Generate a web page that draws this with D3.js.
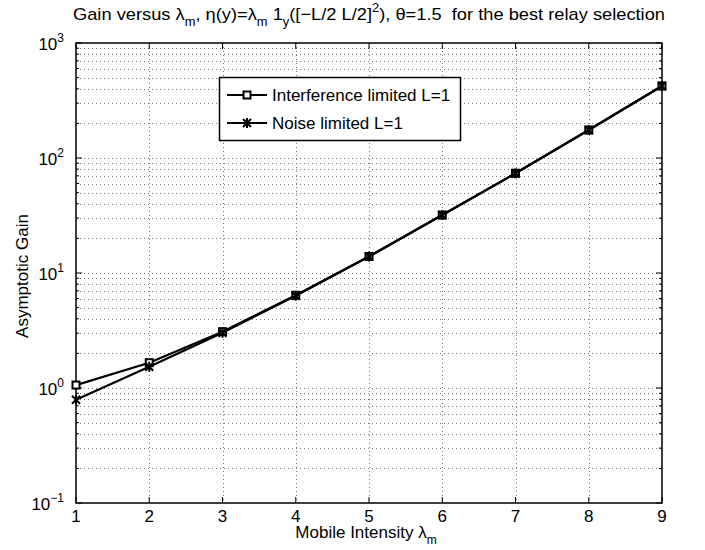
<!DOCTYPE html>
<html>
<head>
<meta charset="utf-8">
<script src="https://cdn.jsdelivr.net/npm/d3@7"></script>
<style>
  html, body { margin: 0; padding: 0; background: #fff; }
  svg text { font-family: "Liberation Sans", Arial, Helvetica, sans-serif; fill: #000; }
</style>
</head>
<body>
<svg id="chart" width="705" height="550"></svg>
<script>
const lambdas = [1, 2, 3, 4, 5, 6, 7, 8, 9];
const interferenceGain = [1.06, 1.66, 3.09, 6.4, 13.9, 31.9, 73.6, 175, 423];
const noiseGain = [0.79, 1.53, 3.02, 6.35, 13.9, 31.9, 73.6, 175, 423];
const xTicks = [1, 2, 3, 4, 5, 6, 7, 8, 9];
const yDecades = [-1, 0, 1, 2, 3];
const seriesNames = ["Interference limited L=1", "Noise limited L=1"];

const svg = d3.select("#chart");
const margin = { left: 76, right: 43, top: 43, bottom: 47 };
const width = 705 - margin.left - margin.right;
const height = 550 - margin.top - margin.bottom;

const x = d3.scaleLinear().domain([1, 9]).range([margin.left, margin.left + width]);
const y = d3.scaleLog().domain([0.1, 1000]).range([margin.top + height, margin.top]);

const minorValues = [];
yDecades.slice(0, -1).forEach((d) => {
  for (let k = 2; k <= 9; k++) minorValues.push(k * Math.pow(10, d));
});
const majorValues = yDecades.map((d) => Math.pow(10, d));

// grid
const grid = svg.append("g")
  .attr("stroke", "#777")
  .attr("stroke-width", 1)
  .attr("stroke-dasharray", "1,3");

grid.selectAll("line.gx")
  .data(xTicks.slice(1, -1))
  .join("line")
  .attr("x1", (d) => Math.round(x(d)) + 0.5).attr("x2", (d) => Math.round(x(d)) + 0.5)
  .attr("y1", margin.top).attr("y2", margin.top + height);

grid.selectAll("line.gy")
  .data(minorValues.concat(majorValues.slice(1, -1)))
  .join("line")
  .attr("x1", margin.left).attr("x2", margin.left + width)
  .attr("y1", (d) => Math.round(y(d)) + 0.5).attr("y2", (d) => Math.round(y(d)) + 0.5);

// ticks (inward, all four sides)
const ticks = svg.append("g").attr("stroke", "#000").attr("stroke-width", 1);
xTicks.forEach((t) => {
  ticks.append("line").attr("x1", x(t)).attr("x2", x(t)).attr("y1", margin.top + height).attr("y2", margin.top + height - 6);
  ticks.append("line").attr("x1", x(t)).attr("x2", x(t)).attr("y1", margin.top).attr("y2", margin.top + 6);
});
majorValues.forEach((v) => {
  ticks.append("line").attr("x1", margin.left).attr("x2", margin.left + 6).attr("y1", y(v)).attr("y2", y(v));
  ticks.append("line").attr("x1", margin.left + width).attr("x2", margin.left + width - 6).attr("y1", y(v)).attr("y2", y(v));
});
minorValues.forEach((v) => {
  ticks.append("line").attr("x1", margin.left).attr("x2", margin.left + 3).attr("y1", y(v)).attr("y2", y(v));
  ticks.append("line").attr("x1", margin.left + width).attr("x2", margin.left + width - 3).attr("y1", y(v)).attr("y2", y(v));
});

// box
svg.append("rect")
  .attr("x", margin.left).attr("y", margin.top)
  .attr("width", width).attr("height", height)
  .attr("fill", "none").attr("stroke", "#000").attr("stroke-width", 1.5);

// tick labels
svg.append("g").selectAll("text")
  .data(xTicks)
  .join("text")
  .attr("x", (d) => x(d))
  .attr("y", margin.top + height + 19)
  .attr("text-anchor", "middle")
  .attr("font-size", 17)
  .text((d) => d);

const yLabels = svg.append("g").selectAll("text")
  .data(yDecades)
  .join("text")
  .attr("x", 64)
  .attr("y", (d) => y(Math.pow(10, d)) + 7)
  .attr("text-anchor", "end")
  .attr("font-size", 17);
yLabels.append("tspan").text("10");
yLabels.append("tspan").attr("font-size", 12).attr("dy", -8).text((d) => (d < 0 ? "\u2212" + Math.abs(d) : d));

// axis titles
const xTitle = svg.append("text")
  .attr("x", x(5) - 3)
  .attr("y", 538)
  .attr("text-anchor", "middle")
  .attr("font-size", 17);
xTitle.append("tspan").text("Mobile Intensity \u03bb");
xTitle.append("tspan").attr("font-size", 12).attr("dy", 6).text("m");

svg.append("text")
  .attr("transform", `translate(28,276) rotate(-90)`)
  .attr("text-anchor", "middle")
  .attr("font-size", 17)
  .text("Asymptotic Gain");

// title
const title = svg.append("text")
  .attr("x", 73)
  .attr("y", 20)
  .attr("textLength", 592)
  .attr("lengthAdjust", "spacingAndGlyphs")
  .attr("font-size", 17);
const titleParts = [
  ["Gain versus \u03bb", 0, 17],
  ["m", 6, 12],
  [", \u03b7(y)=\u03bb", -6, 17],
  ["m", 6, 12],
  [" 1", -6, 17],
  ["y", 6, 12],
  ["([\u2212L/2 L/2]", -6, 17],
  ["2", -8, 12],
  ["), \u03b8=1.5\u00a0 for the best relay selection", 8, 17],
];
titleParts.forEach(([t, dy, fs]) => {
  title.append("tspan").attr("dy", dy).attr("font-size", fs).text(t);
});

// series
const line = d3.line().x((d) => x(d[0])).y((d) => y(d[1]));
const interferencePts = lambdas.map((l, i) => [l, interferenceGain[i]]);
const noisePts = lambdas.map((l, i) => [l, noiseGain[i]]);

function drawSquare(g, cx, cy) {
  g.append("rect")
    .attr("x", cx - 3.5).attr("y", cy - 3.5)
    .attr("width", 7).attr("height", 7)
    .attr("fill", "#fff").attr("stroke", "#000").attr("stroke-width", 2);
}

function drawStar(g, cx, cy) {
  const r = 4;
  g.append("path")
    .attr("d", `M${cx - r},${cy - r}L${cx + r},${cy + r}M${cx - r},${cy + r}L${cx + r},${cy - r}M${cx},${cy - r - 1}L${cx},${cy + r + 1}`)
    .attr("stroke", "#000").attr("stroke-width", 2).attr("fill", "none");
}

const gInt = svg.append("g");
gInt.append("path").datum(interferencePts).attr("d", line)
  .attr("fill", "none").attr("stroke", "#000").attr("stroke-width", 2.2);
interferencePts.forEach((p) => drawSquare(gInt, x(p[0]), y(p[1])));

const gNoise = svg.append("g");
gNoise.append("path").datum(noisePts).attr("d", line)
  .attr("fill", "none").attr("stroke", "#000").attr("stroke-width", 2.2);
noisePts.forEach((p) => drawStar(gNoise, x(p[0]), y(p[1])));

// legend
const legend = svg.append("g");
legend.append("rect")
  .attr("x", 219.5).attr("y", 77.5)
  .attr("width", 241).attr("height", 63)
  .attr("fill", "#fff").attr("stroke", "#000").attr("stroke-width", 1.5);
const rowY = [95, 123];
seriesNames.forEach((name, i) => {
  legend.append("line")
    .attr("x1", 227).attr("x2", 267)
    .attr("y1", rowY[i]).attr("y2", rowY[i])
    .attr("stroke", "#000").attr("stroke-width", 2.2);
  if (i === 0) drawSquare(legend, 247, rowY[i]);
  else drawStar(legend, 247, rowY[i]);
  legend.append("text")
    .attr("x", 272).attr("y", rowY[i] + 6)
    .attr("font-size", 17)
    .text(name);
});
</script>
</body>
</html>
